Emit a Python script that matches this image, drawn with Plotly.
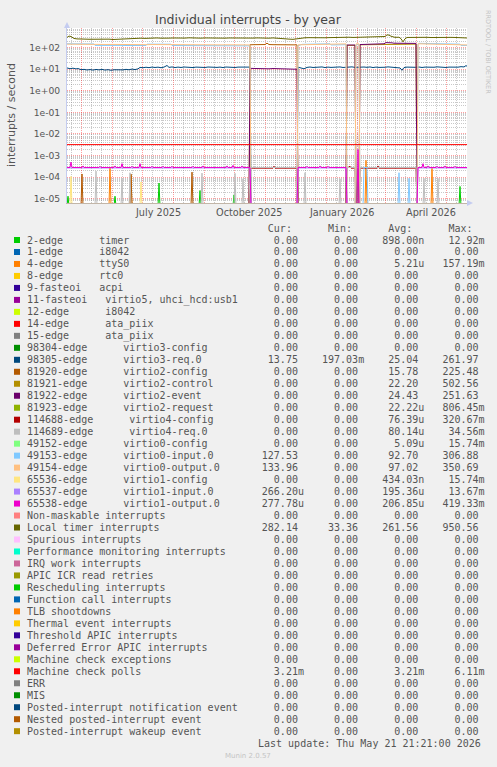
import plotly.graph_objects as go
from datetime import datetime, timedelta

# ---------------------------------------------------------------- time frame
START = datetime(2025, 4, 16, 21, 21)
END = datetime(2026, 5, 21, 21, 21)
LAST_UPDATE = "Last update: Thu May 21 21:21:00 2026"
TITLE = "Individual interrupts - by year"
Y_TITLE = "interrupts / second"

# ---------------------------------------------------------------- axis ticks
Y_TICK_VALUES = [1e-5, 1e-4, 1e-3, 1e-2, 1e-1, 1e0, 1e1, 1e2]
Y_TICK_TEXT = ["1e-05", "1e-04", "1e-03", "1e-02", "1e-01", "1e+00", "1e+01", "1e+02"]
Y_LOG_RANGE = [-5.2, 2.913]
X_LABELS = ["July 2025", "October 2025", "January 2026", "April 2026"]
X_LABEL_DATES = ["2025-07-16 12:00", "2025-10-16 12:00", "2026-01-16 12:00", "2026-04-16 00:00"]

# ---------------------------------------------------------------- legend table
NAMES = [
    "2-edge      timer",
    "1-edge      i8042",
    "4-edge      ttyS0",
    "8-edge      rtc0",
    "9-fasteoi   acpi",
    "11-fasteoi   virtio5, uhci_hcd:usb1",
    "12-edge      i8042",
    "14-edge      ata_piix",
    "15-edge      ata_piix",
    "98304-edge      virtio3-config",
    "98305-edge      virtio3-req.0",
    "81920-edge      virtio2-config",
    "81921-edge      virtio2-control",
    "81922-edge      virtio2-event",
    "81923-edge      virtio2-request",
    "114688-edge      virtio4-config",
    "114689-edge      virtio4-req.0",
    "49152-edge      virtio0-config",
    "49153-edge      virtio0-input.0",
    "49154-edge      virtio0-output.0",
    "65536-edge      virtio1-config",
    "65537-edge      virtio1-input.0",
    "65538-edge      virtio1-output.0",
    "Non-maskable interrupts",
    "Local timer interrupts",
    "Spurious interrupts",
    "Performance monitoring interrupts",
    "IRQ work interrupts",
    "APIC ICR read retries",
    "Rescheduling interrupts",
    "Function call interrupts",
    "TLB shootdowns",
    "Thermal event interrupts",
    "Threshold APIC interrupts",
    "Deferred Error APIC interrupts",
    "Machine check exceptions",
    "Machine check polls",
    "ERR",
    "MIS",
    "Posted-interrupt notification event",
    "Nested posted-interrupt event",
    "Posted-interrupt wakeup event",
]
COLORS = [
    "#00CC00", "#0066B3", "#FF8000", "#FFCC00", "#330099", "#990099", "#CCFF00",
    "#FF0000", "#808080", "#008F00", "#00487D", "#B35A00", "#B38F00", "#6B006B",
    "#8FB300", "#B30000", "#BEBEBE", "#80FF80", "#80C9FF", "#FFC080", "#FFE680",
    "#AA80FF", "#EE00CC", "#FF8080", "#666600", "#FFBFFF", "#00FFCC", "#CC6699",
    "#999900", "#00CC00", "#0066B3", "#FF8000", "#FFCC00", "#330099", "#990099",
    "#CCFF00", "#FF0000", "#808080", "#008F00", "#00487D", "#B35A00", "#B38F00",
]
Z = "0.00"
CUR = [Z, Z, Z, Z, Z, Z, Z, Z, Z, Z,
       "13.75", Z, Z, Z, Z, Z, Z, Z, "127.53", "133.96",
       Z, "266.20u", "277.78u", Z, "282.14", Z, Z, Z, Z, Z,
       Z, Z, Z, Z, Z, Z, "3.21m", Z, Z, Z, Z, Z]
MIN = [Z, Z, Z, Z, Z, Z, Z, Z, Z, Z,
       "197.03m", Z, Z, Z, Z, Z, Z, Z, Z, Z,
       Z, Z, Z, Z, "33.36", Z, Z, Z, Z, Z,
       Z, Z, Z, Z, Z, Z, Z, Z, Z, Z, Z, Z]
AVG = ["898.00n", Z, "5.21u", Z, Z, Z, Z, Z, Z, Z,
       "25.04", "15.78", "22.20", "24.43", "22.22u", "76.39u", "80.14u", "5.09u", "92.70", "97.02",
       "434.03n", "195.36u", "206.85u", Z, "261.56", Z, Z, Z, Z, Z,
       Z, Z, Z, Z, Z, Z, "3.21m", Z, Z, Z, Z, Z]
MAX = ["12.92m", Z, "157.19m", Z, Z, Z, Z, Z, Z, Z,
       "261.97", "225.48", "502.56", "251.63", "806.45m", "320.67m", "34.56m", "15.74m", "306.88", "350.69",
       "15.74m", "13.67m", "419.33m", Z, "950.56", Z, Z, Z, Z, Z,
       Z, Z, Z, Z, Z, Z, "6.11m", Z, Z, Z, Z, Z]

# ---------------------------------------------------------------- series (day offset from START, value)
TIMER_SPIKES = [(1, 1.3e-5), (48, 1.3e-5), (92, 5.3e-5), (133, 2.4e-5), (167, 1.5e-5), (291, 2.5e-4), (393, 3.7e-5)]
TTYS0_SPIKES = [(43, 2.7e-4), (64, 1.2e-4), (299, 6.0e-4), (365, 2.6e-4)]
VIRTIO1_CONFIG_SPIKES = [(4, 1.08e-4), (74, 6.0e-5)]

VIRTIO3_REQ = [
    (0, 11.5), (3, 10.6), (6, 11.2), (9, 10.4), (11, 10.8), (14, 9.6), (17, 9.9), (20, 9.3), (23, 9.7), (26, 9.2),
    (29, 9.8), (32, 9.4), (35, 9.9), (38, 9.2), (41, 9.6), (44, 9.0), (47, 9.5), (50, 9.3), (53, 9.8), (56, 9.4),
    (59, 9.9), (62, 9.5), (65, 10.2), (68, 9.7), (71, 10.4), (73, 12.2), (76, 11.8), (79, 12.4), (82, 11.9), (85, 12.6),
    (88, 12.1), (91, 12.5), (94, 11.8), (97, 12.6), (100, 15.0), (102, 12.2), (105, 12.8), (108, 12.0), (111, 12.6), (114, 12.1),
    (117, 12.7), (120, 12.3), (123, 12.8), (126, 12.0), (129, 12.6), (132, 12.2), (135, 12.8), (138, 12.1), (141, 12.7), (144, 12.3),
    (147, 12.9), (150, 12.2), (153, 12.6), (156, 12.0), (159, 12.7), (162, 12.3), (165, 12.8), (168, 12.1), (171, 12.6), (174, 12.4),
    (177, 12.9), (180, 12.3), (183, 12.6), (184, 0), (230, 0), (231, 12.5), (234, 11.8), (237, 10.5), (240, 12.2), (243, 12.7),
    (246, 12.1), (249, 12.6), (252, 12.3), (255, 12.8), (258, 12.0), (261, 12.6), (264, 12.2), (267, 12.7), (270, 12.3), (273, 12.8),
    (276, 12.1), (279, 12.6), (282, 12.4), (285, 12.9), (288, 12.2), (291, 12.6), (294, 12.1), (297, 12.7), (300, 12.3), (303, 12.8),
    (306, 12.0), (309, 12.6), (312, 12.2), (315, 12.8), (318, 12.4), (321, 12.9), (324, 12.3), (327, 12.7), (330, 12.1), (333, 11.5),
    (335, 9.0), (337, 12.0), (340, 12.6), (343, 12.2), (346, 12.8), (349, 12.3), (352, 12.7), (355, 12.1), (358, 12.6), (361, 12.2),
    (364, 12.8), (367, 12.4), (370, 12.9), (373, 12.3), (376, 12.7), (379, 12.1), (382, 12.6), (385, 12.3), (388, 13.0), (391, 12.5),
    (394, 13.2), (397, 12.8), (399, 14.8), (400, 13.75),
]
VIRTIO2_CONFIG = [
    (0, 0), (14, 0), (15, 1.4e-4), (16, 0), (63, 0), (64, 1.4e-4), (65, 0), (124, 0), (125, 1.7e-4), (126, 0),
    (182, 0), (183, 136), (186, 138), (190, 137), (194, 139), (198, 140), (200, 162), (202, 140), (206, 138),
    (210, 139), (214, 137), (218, 138), (222, 136), (226, 137), (230, 135), (231, 0), (400, 0),
]
VIRTIO2_CONTROL = [
    (0, 0), (279, 0), (280, 128), (284, 129), (288, 128), (289, 0), (292, 0), (293, 136), (297, 137),
    (301, 136), (305, 138), (309, 137), (313, 140), (317, 148), (321, 150), (325, 147), (329, 148),
    (333, 146), (337, 148), (341, 147), (345, 148), (349, 146), (350, 0), (400, 0),
]
VIRTIO2_EVENT = [
    (0, 0), (182, 0), (183, 11.0), (186, 10.8), (190, 10.6), (194, 10.9), (198, 10.7), (202, 10.5), (206, 10.8),
    (210, 10.6), (214, 10.4), (218, 10.7), (222, 10.5), (226, 10.3), (230, 10.0), (231, 0), (279, 0),
    (280, 133), (284, 134), (288, 133), (289, 0), (292, 0), (293, 140), (297, 141), (301, 142), (305, 141),
    (309, 142), (313, 143), (317, 152), (319, 172), (322, 176), (325, 168), (327, 161), (331, 159),
    (335, 158), (339, 159), (343, 158), (347, 159), (349, 158), (350, 0), (400, 0),
]
VIRTIO4_CONFIG = [
    (0, 0), (182, 0), (183, 2.6e-4), (190, 2.6e-4), (200, 2.6e-4), (206, 2.6e-4), (207, 3.2e-4), (208, 2.6e-4),
    (215, 2.6e-4), (225, 2.6e-4), (230, 2.6e-4), (231, 0), (279, 0), (280, 2.6e-4), (283, 3.2e-4), (284, 2.6e-4),
    (288, 2.6e-4), (289, 0), (292, 0), (293, 2.6e-4), (300, 2.6e-4), (310, 2.6e-4), (311, 3.3e-4), (312, 2.6e-4),
    (320, 2.6e-4), (330, 2.6e-4), (340, 2.6e-4), (349, 2.6e-4), (350, 0), (400, 0),
]
VIRTIO4_REQ = [
    (0, 0), (28, 0), (29, 1.9e-4), (30, 0), (54, 0), (55, 8.4e-5), (56, 0), (62, 0), (63, 1.6e-4), (64, 0),
    (134, 0), (135, 1.53e-4), (136, 0), (167, 0), (168, 1.5e-4), (169, 0), (175, 0), (176, 8.4e-5), (177, 0),
    (182, 0), (183, 2.8e-4), (195, 2.8e-4), (205, 2.8e-4), (215, 2.8e-4), (230, 2.8e-4), (231, 0),
    (237, 0), (238, 1.6e-4), (239, 0), (272, 0), (273, 8.4e-5), (274, 0), (279, 0), (280, 2.8e-4),
    (288, 2.8e-4), (289, 0), (292, 0), (293, 2.8e-4), (310, 2.8e-4), (330, 2.8e-4), (349, 2.8e-4), (350, 0),
    (356, 0), (357, 8.7e-5), (358, 0), (370, 0), (371, 8.7e-5), (372, 0), (400, 0),
]
VIRTIO0_INPUT = [
    (0, 152), (5, 151), (10, 152), (15, 150), (20, 151), (25, 150), (27, 149), (28, 128), (35, 130), (40, 128),
    (45, 129), (50, 127), (55, 128), (60, 126), (65, 127), (70, 128), (75, 127), (79, 126), (80, 146), (85, 147),
    (90, 146), (95, 145), (100, 146), (104, 145), (105, 126), (110, 125), (115, 126), (120, 124), (125, 125),
    (130, 126), (135, 124), (140, 123), (145, 124), (150, 122), (155, 123), (160, 124), (165, 122), (170, 123),
    (175, 121), (180, 122), (183, 122), (184, 0), (230, 0), (231, 124), (235, 143), (240, 145), (245, 147),
    (250, 149), (255, 151), (260, 152), (263, 152), (264, 134), (270, 136), (275, 137), (279, 138), (280, 0),
    (288, 0), (289, 138), (292, 138), (293, 0), (296, 0), (297, 2.8e-4), (300, 2.8e-4), (301, 0), (331, 0),
    (332, 1.6e-4), (333, 0), (341, 0), (342, 8.7e-5), (343, 0), (350, 0), (351, 140), (352, 160), (355, 158),
    (360, 156), (365, 155), (370, 154), (375, 153), (380, 152), (385, 151), (390, 148), (393, 146), (394, 128),
    (400, 127.53),
]
VIRTIO0_OUTPUT = [
    (0, 146), (5, 144), (10, 145), (15, 143), (20, 146), (25, 144), (30, 142), (35, 143), (40, 141), (45, 142),
    (50, 140), (55, 141), (60, 139), (65, 140), (70, 141), (75, 139), (80, 138), (85, 140), (90, 139), (95, 138),
    (100, 140), (105, 139), (110, 137), (115, 138), (120, 136), (125, 137), (130, 138), (135, 136), (140, 135),
    (145, 136), (150, 134), (155, 135), (160, 136), (165, 134), (170, 135), (175, 133), (180, 134), (183, 134),
    (184, 0), (230, 0), (231, 136), (235, 137), (240, 138), (245, 140), (250, 142), (255, 144), (260, 146),
    (265, 147), (270, 148), (275, 149), (279, 150), (280, 0), (288, 0), (289, 150), (292, 150), (293, 0),
    (350, 0), (351, 152), (355, 150), (360, 148), (365, 147), (370, 146), (375, 145), (380, 144), (385, 143),
    (390, 140), (395, 136), (400, 133.96),
]
VIRTIO1_INPUT = [
    (0, 2.66e-4), (183, 2.66e-4), (184, 0), (230, 0), (231, 2.66e-4), (279, 2.66e-4), (280, 0),
    (350, 0), (351, 2.66e-4), (400, 2.662e-4),
]
VIRTIO1_OUTPUT = [
    (0, 2.8e-4), (3, 2.8e-4), (4, 5.0e-4), (5, 2.8e-4), (15, 2.8e-4), (16, 3.3e-4), (17, 2.8e-4),
    (32, 2.8e-4), (33, 3.2e-4), (34, 2.8e-4), (47, 2.8e-4), (48, 3.3e-4), (49, 2.8e-4), (54, 2.8e-4),
    (55, 4.2e-4), (56, 2.8e-4), (64, 2.8e-4), (65, 3.2e-4), (66, 2.8e-4), (72, 2.8e-4), (73, 4.2e-4),
    (74, 2.8e-4), (84, 2.8e-4), (85, 3.2e-4), (86, 2.8e-4), (95, 2.8e-4), (96, 3.2e-4), (97, 2.8e-4),
    (104, 2.8e-4), (105, 3.2e-4), (106, 2.8e-4), (125, 2.8e-4), (126, 3.2e-4), (127, 2.8e-4),
    (135, 2.8e-4), (136, 3.3e-4), (137, 2.8e-4), (159, 2.8e-4), (160, 3.3e-4), (161, 2.8e-4),
    (165, 2.8e-4), (166, 3.5e-4), (167, 2.8e-4), (174, 2.8e-4), (175, 3.3e-4), (176, 2.8e-4),
    (183, 2.8e-4), (184, 0), (230, 0), (231, 2.8e-4), (239, 2.8e-4), (240, 3.2e-4), (241, 2.8e-4),
    (252, 2.8e-4), (253, 3.3e-4), (254, 2.8e-4), (260, 2.8e-4), (261, 3.2e-4), (262, 2.8e-4),
    (279, 2.8e-4), (280, 0), (290, 0), (291, 1.9e-3), (292, 0), (350, 0), (351, 2.8e-4), (355, 2.8e-4),
    (356, 4.2e-4), (357, 2.8e-4), (360, 2.8e-4), (361, 3.3e-4), (362, 2.8e-4), (369, 2.8e-4),
    (370, 3.2e-4), (371, 2.8e-4), (377, 2.8e-4), (378, 3.3e-4), (379, 2.8e-4), (387, 2.8e-4),
    (388, 3.2e-4), (389, 2.8e-4), (400, 2.7778e-4),
]
LOCAL_TIMER = [
    (0, 300), (2, 345), (4, 330), (7, 268), (10, 255), (14, 262), (18, 250), (22, 246), (26, 250), (30, 241),
    (34, 251), (38, 243), (42, 249), (46, 240), (50, 247), (54, 251), (58, 243), (62, 262), (66, 272), (70, 270),
    (74, 276), (78, 270), (82, 280), (86, 274), (90, 283), (94, 276), (98, 286), (102, 278), (106, 282), (110, 276),
    (114, 284), (118, 279), (122, 287), (126, 280), (130, 285), (134, 277), (138, 283), (142, 278), (146, 286), (150, 280),
    (154, 284), (158, 277), (162, 282), (166, 279), (170, 285), (174, 280), (178, 276), (182, 283), (186, 279), (190, 284),
    (194, 278), (198, 282), (202, 276), (206, 284), (210, 280), (214, 275), (218, 270), (222, 250), (226, 244), (230, 262),
    (234, 284), (238, 288), (242, 292), (246, 286), (250, 290), (254, 294), (258, 288), (262, 293), (266, 298), (270, 291),
    (274, 297), (278, 302), (282, 306), (286, 299), (290, 303), (294, 298), (298, 306), (302, 301), (306, 298), (310, 303),
    (314, 307), (318, 330), (320, 392), (322, 384), (324, 340), (328, 302), (332, 306), (334, 262), (336, 186), (338, 258),
    (340, 298), (344, 303), (348, 296), (352, 301), (356, 297), (360, 303), (364, 296), (368, 301), (372, 298), (376, 303),
    (380, 296), (384, 301), (388, 298), (392, 295), (396, 290), (400, 282.14),
]
MACHINE_CHECK_POLLS = [(0, 3.21e-3), (100, 3.21e-3), (200, 3.21e-3), (300, 3.21e-3), (400, 3.21e-3)]


def spikes(points):
    out = [(0, 0)]
    for d, v in points:
        out += [(d - 1, 0), (d, v), (d + 1, 0)]
    out.append((400, 0))
    return out


SERIES = {
    0: spikes(TIMER_SPIKES),
    2: spikes(TTYS0_SPIKES),
    10: VIRTIO3_REQ,
    11: VIRTIO2_CONFIG,
    12: VIRTIO2_CONTROL,
    13: VIRTIO2_EVENT,
    15: VIRTIO4_CONFIG,
    16: VIRTIO4_REQ,
    18: VIRTIO0_INPUT,
    19: VIRTIO0_OUTPUT,
    20: spikes(VIRTIO1_CONFIG_SPIKES),
    21: VIRTIO1_INPUT,
    22: VIRTIO1_OUTPUT,
    24: LOCAL_TIMER,
    36: MACHINE_CHECK_POLLS,
}
ZERO_SERIES = [(0, 0), (400, 0)]
FLOOR = 10 ** -5.35  # zero values are drawn just under the bottom of the log axis, like rrdtool

# ---------------------------------------------------------------- geometry
W, H = 497, 767
L, T, PW, PH = 67, 28, 400, 175
B = H - T - PH
R = W - L - PW


def pxx(x):
    return (x - L) / PW


def pxy(y):
    return (T + PH - y) / PH


fig = go.Figure()
for i, name in enumerate(NAMES):
    pts = SERIES.get(i, ZERO_SERIES)
    xs = [START + timedelta(days=d) for d, _ in pts]
    ys = [v if v > 0 else FLOOR for _, v in pts]
    fig.add_trace(go.Scatter(x=xs, y=ys, mode="lines", name=name,
                             line=dict(color=COLORS[i], width=1), hoverinfo="skip"))

# grid positions
month_starts = []
minor_days = []
y, m = 2025, 4
while (y, m) <= (2026, 5):
    month_starts.append(datetime(y, m, 1))
    minor_days += [datetime(y, m, 11), datetime(y, m, 21)]
    m += 1
    if m > 12:
        m, y = 1, y + 1
y_minor = [k * 10 ** e for e in range(-6, 3) for k in range(2, 10)]

GRID_MAJOR = "rgba(255,0,0,0.38)"
GRID_MINOR = "rgba(120,120,120,0.40)"
TEXT = "#555555"
MONO = "DejaVu Sans Mono"
SANS = "DejaVu Sans"

annotations = []
shapes = []


def note(text, x, y, size, family=SANS, color=TEXT, xanchor="center", xref="paper", **kw):
    annotations.append(dict(text=text, x=x, y=y, xref=xref, yref="paper", xanchor=xanchor,
                            yanchor="middle", showarrow=False,
                            font=dict(family=family, size=size, color=color), **kw))


note(TITLE, pxx(248.5), pxy(19), 12.5, color="#454545")
note(Y_TITLE, pxx(11), pxy(115), 11, textangle=-90)
note("RRDTOOL / TOBI OETIKER", pxx(488), pxy(52), 6.5, color="#C4C4C4", textangle=90)
for lab, dt in zip(X_LABELS, X_LABEL_DATES):
    note(lab, dt, pxy(212), 9.7, xref="x")


def fld(s):
    if s[-1].isalpha():
        return s[:-1].rjust(6) + s[-1]
    return s.rjust(6) + " "


NB = "\u00a0"
header = " " * 40 + "Cur:" + " " * 6 + "Min:" + " " * 6 + "Avg:" + " " * 6 + "Max:"
note(header.replace(" ", NB), pxx(25), pxy(228), 10, family=MONO, xanchor="left")
ROW0, ROWSTEP = 240, 11.98
for i, name in enumerate(NAMES):
    yc = ROW0 + i * ROWSTEP
    row = name.ljust(39) + fld(CUR[i]) + "   " + fld(MIN[i]) + "   " + fld(AVG[i]) + "   " + fld(MAX[i])
    note(row.replace(" ", NB), pxx(25), pxy(yc), 10, family=MONO, xanchor="left")
    shapes.append(dict(type="rect", xref="paper", yref="paper", x0=pxx(14), x1=pxx(20),
                       y0=pxy(yc + 3), y1=pxy(yc - 3), fillcolor=COLORS[i], line=dict(width=0)))

note(LAST_UPDATE.replace(" ", NB), pxx(483), pxy(743), 10, family=MONO, xanchor="right")
note("Munin 2.0.57", pxx(248), pxy(756), 7, color="#C4C4C4")

# axis arrows
ARROW = "#C4CCF0"
shapes.append(dict(type="path", xref="paper", yref="paper", fillcolor=ARROW, line=dict(width=0),
                   path=f"M {pxx(64)},{pxy(28)} L {pxx(67)},{pxy(22)} L {pxx(70)},{pxy(28)} Z"))
shapes.append(dict(type="path", xref="paper", yref="paper", fillcolor=ARROW, line=dict(width=0),
                   path=f"M {pxx(467)},{pxy(200)} L {pxx(473)},{pxy(203)} L {pxx(467)},{pxy(206)} Z"))

fig.update_layout(
    width=W, height=H, autosize=False,
    margin=dict(l=L, r=R, t=T, b=B, pad=0),
    paper_bgcolor="#F0F0F0", plot_bgcolor="#FFFFFF",
    showlegend=False,
    annotations=annotations, shapes=shapes,
    xaxis=dict(
        type="date", range=[START, END], tickmode="array", tickvals=month_starts,
        showticklabels=False, ticks="", showgrid=True, gridcolor=GRID_MAJOR, griddash="1px,1px", gridwidth=1,
        minor=dict(tickmode="array", tickvals=minor_days, showgrid=True, gridcolor=GRID_MINOR,
                   griddash="1px,1px", gridwidth=1, ticks=""),
        showline=True, linecolor="#C2B6A8", linewidth=1, zeroline=False, fixedrange=True,
    ),
    yaxis=dict(
        type="log", range=Y_LOG_RANGE, tickmode="array", tickvals=Y_TICK_VALUES, ticktext=Y_TICK_TEXT,
        ticks="outside", ticklen=4, tickcolor="rgba(0,0,0,0)",
        tickfont=dict(family=SANS, size=9.2, color=TEXT),
        showgrid=True, gridcolor=GRID_MAJOR, griddash="1px,1px", gridwidth=1,
        minor=dict(tickmode="array", tickvals=y_minor, showgrid=True, gridcolor=GRID_MINOR,
                   griddash="1px,1px", gridwidth=1, ticks=""),
        showline=True, linecolor=ARROW, linewidth=1, zeroline=False, fixedrange=True,
    ),
)

PAGE_STYLE = "document.body.style.margin='0';document.body.style.background='#F0F0F0';"
fig.write_html("out.html", include_plotlyjs=True, config={"displayModeBar": False}, post_script=PAGE_STYLE)
